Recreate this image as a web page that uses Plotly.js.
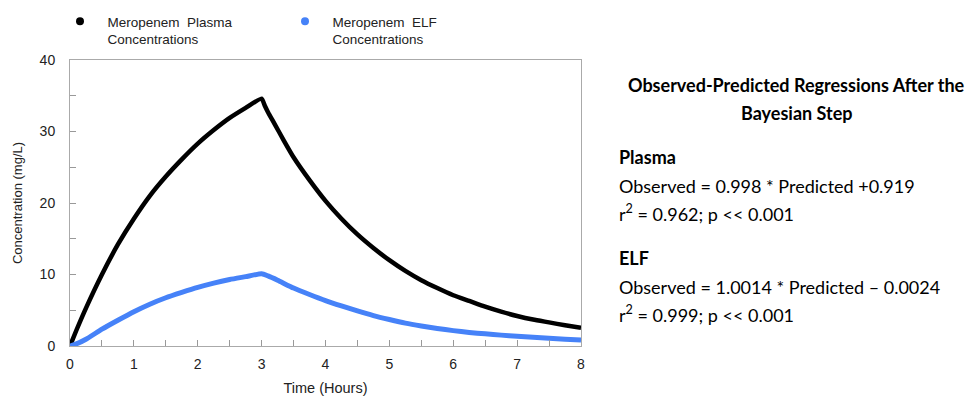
<!DOCTYPE html>
<html>
<head>
<meta charset="utf-8">
<script src="https://cdn.plot.ly/plotly-3.0.1.min.js"></script>
<style>html,body{margin:0;padding:0;background:#fff;}#chart{width:971px;height:397px;}</style>
</head>
<body>
<div id="chart"></div>
<script>
// Plasma concentrations (mg/L)
const plasmaTime = [0, 0.1, 0.25, 0.5, 0.75, 1, 1.25, 1.5, 1.75, 2, 2.25, 2.5, 2.75, 3,
  3.05, 3.1, 3.2, 3.35, 3.5, 3.75, 4, 4.25, 4.5, 4.75, 5, 5.25, 5.5, 5.75, 6, 6.25, 6.5, 6.75, 7, 7.25, 7.5, 7.75, 8];
const plasmaConc = [0, 2.2, 5.3, 10.0, 14.2, 17.8, 21.0, 23.7, 26.1, 28.3, 30.2, 31.9, 33.3, 34.6,
  33.6, 32.7, 31.1, 28.7, 26.4, 23.2, 20.3, 17.8, 15.6, 13.7, 12.0, 10.5, 9.2, 8.1, 7.1, 6.3, 5.5, 4.8, 4.2, 3.7, 3.3, 2.9, 2.55];

// ELF concentrations (mg/L)
const elfTime = [0, 0.1, 0.25, 0.5, 0.75, 1, 1.25, 1.5, 1.75, 2, 2.25, 2.5, 2.75, 3,
  3.1, 3.25, 3.5, 3.75, 4, 4.25, 4.5, 4.75, 5, 5.25, 5.5, 5.75, 6, 6.25, 6.5, 6.75, 7, 7.25, 7.5, 7.75, 8];
const elfConc = [0, 0.3, 0.95, 2.35, 3.6, 4.8, 5.85, 6.75, 7.5, 8.2, 8.8, 9.3, 9.7, 10.1,
  9.8, 9.2, 8.1, 7.2, 6.35, 5.6, 4.9, 4.25, 3.7, 3.2, 2.8, 2.45, 2.15, 1.9, 1.7, 1.52, 1.37, 1.22, 1.1, 0.96, 0.85];

const seriesNames = ["&nbsp;&nbsp;Meropenem&nbsp; Plasma<br>&nbsp;&nbsp;Concentrations", "&nbsp;&nbsp;Meropenem&nbsp; ELF<br>&nbsp;&nbsp;Concentrations"];
const seriesColors = ["#000000", "#4682F8"];

const xTickVals = [0, 1, 2, 3, 4, 5, 6, 7, 8];
const yTickVals = [0, 10, 20, 30, 40];

const panelTitle = ["Observed-Predicted Regressions After the", "Bayesian Step"];
const panelLines = [
  {text: "<b>Plasma</b>", y: 157},
  {text: "Observed = 0.998 * Predicted +0.919", y: 186},
  {text: "r<sup>2</sup> = 0.962; p << 0.001", y: 213},
  {text: "<b>ELF</b>", y: 258},
  {text: "Observed = 1.0014 * Predicted \u2013 0.0024", y: 287},
  {text: "r<sup>2</sup> = 0.999; p << 0.001", y: 314}
];

const L = 70, R = 581, T = 60, B = 346;
const W = 971, H = 397;
const px2x = p => (p - L) / (R - L);
const py2y = p => (B - p) / (B - T);

const traces = [
  {x: plasmaTime, y: plasmaConc, mode: "lines", line: {color: seriesColors[0], width: 4.5, shape: "spline", smoothing: 0.5}, showlegend: false, hoverinfo: "skip"},
  {x: elfTime, y: elfConc, mode: "lines", line: {color: seriesColors[1], width: 5, shape: "spline", smoothing: 0.5}, showlegend: false, hoverinfo: "skip"},
  {x: [null], y: [null], mode: "markers", name: seriesNames[0], marker: {color: seriesColors[0], size: 8}},
  {x: [null], y: [null], mode: "markers", name: seriesNames[1], marker: {color: seriesColors[1], size: 8}}
];

const panelFont = {family: "Lato, 'Open Sans', sans-serif", size: 18, color: "#000"};
const annotations = [];
panelTitle.forEach((t, i) => annotations.push({
  xref: "paper", yref: "paper", x: px2x(796), y: py2y(i === 0 ? 85 : 113),
  xanchor: "center", yanchor: "middle", showarrow: false,
  text: "<b>" + t + "</b>", font: panelFont
}));
panelLines.forEach(l => annotations.push({
  xref: "paper", yref: "paper", x: px2x(617), y: py2y(l.y),
  xanchor: "left", yanchor: "middle", showarrow: false,
  text: l.text, font: panelFont
}));

const tickFont = {family: "'Liberation Sans', Arial, sans-serif", size: 14, color: "#222"};
const xTitleFont = {family: "'Liberation Sans', Arial, sans-serif", size: 14.5, color: "#222"};
const yTitleFont = {family: "'Liberation Sans', Arial, sans-serif", size: 13, color: "#222"};

const layout = {
  width: W, height: H,
  margin: {l: L, r: W - R, t: T, b: H - B, pad: 0, autoexpand: false},
  paper_bgcolor: "#fff", plot_bgcolor: "#fff",
  font: tickFont,
  showlegend: true,
  legend: {orientation: "h", x: px2x(60), y: py2y(6), xanchor: "left", yanchor: "top",
    font: {family: "'Liberation Sans', Arial, sans-serif", size: 13.5, color: "#222"},
    entrywidth: 180, entrywidthmode: "pixels", valign: "top", itemwidth: 30, bgcolor: "rgba(0,0,0,0)"},
  xaxis: {
    range: [0, 8], tickvals: xTickVals, ticktext: xTickVals.map(String),
    ticks: "inside", ticklen: 6, tickcolor: "#999", tickwidth: 1,
    minor: {dtick: 0.5, ticks: "inside", ticklen: 6, tickcolor: "#999", showgrid: false},
    showline: true, linecolor: "#aaa", linewidth: 1, mirror: true,
    showgrid: false, zeroline: false, tickfont: tickFont, ticklabelstandoff: 5,
    title: {text: "Time (Hours)", font: xTitleFont, standoff: 12}
  },
  yaxis: {
    range: [0, 40], tickvals: yTickVals, ticktext: yTickVals.map(String),
    ticks: "inside", ticklen: 6, tickcolor: "#999", tickwidth: 1,
    minor: {dtick: 5, ticks: "inside", ticklen: 6, tickcolor: "#999", showgrid: false},
    showline: true, linecolor: "#aaa", linewidth: 1, mirror: true,
    showgrid: false, zeroline: false, tickfont: tickFont, ticklabelstandoff: 11,
    title: {text: "Concentration (mg/L)", font: yTitleFont, standoff: 14}
  },
  annotations: annotations
};

Plotly.newPlot("chart", traces, layout, {displayModeBar: false, staticPlot: true});
</script>
</body>
</html>
